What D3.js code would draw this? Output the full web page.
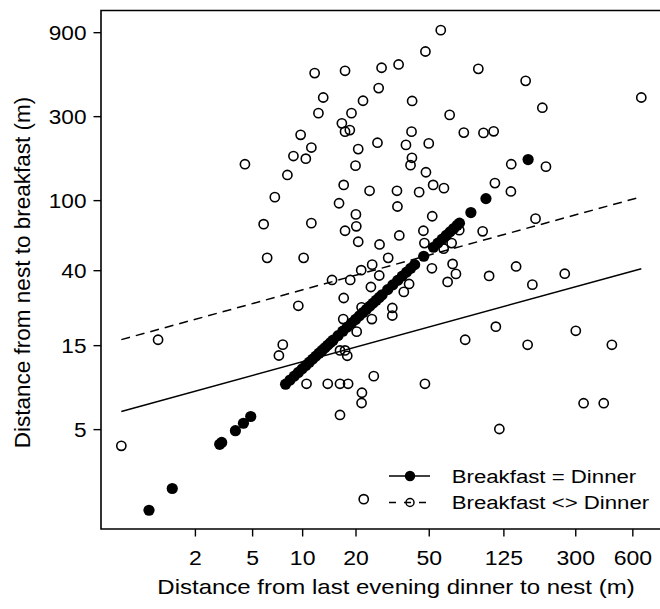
<!DOCTYPE html>
<html>
<head>
<meta charset="utf-8">
<script src="https://cdn.jsdelivr.net/npm/d3@7"></script>
<style>
  body { margin: 0; background: #fff; }
  svg text { font-family: "Liberation Sans", Arial, sans-serif; fill: #000; }
</style>
</head>
<body>
<svg width="660" height="609"></svg>
<script>
// tick values on the two axes
var xTicks = [2, 5, 10, 20, 50, 125, 300, 600];
var yTicks = [5, 15, 40, 100, 300, 900];

// breakfast at the same spot as dinner: [dinner to nest, nest to breakfast]
var sameSpot = [
  [0.72, 1.73], [1.28, 2.3], [3.05, 4.1], [3.15, 4.2], [3.9, 4.9], [4.4, 5.4], [4.9, 5.9],
  [8, 9], [8.5, 9.5], [9, 10], [9.5, 10.5], [10, 11], [10.5, 11.5], [11, 12], [11.5, 12.5],
  [12, 13], [12.5, 13.5], [13, 14], [13.5, 14.5], [14, 15], [14.5, 15.5], [15, 16], [16, 17],
  [17, 18], [18, 19], [19, 20], [20, 21], [21, 22], [22, 23], [23, 24], [24, 25], [25, 26],
  [26, 27], [27, 28], [28, 29], [30, 31], [32, 33], [34, 35], [36, 37], [38, 39], [40, 41],
  [42, 43], [47, 48], [53, 54], [56, 57], [59, 60], [62, 63], [65, 66], [68, 69], [71, 72],
  [73, 74], [84, 85], [101, 102], [169, 170]
];

// breakfast somewhere else
var otherSpot = [
  [11.8, 527], [13.2, 383], [12.4, 312], [9.8, 235], [11.3, 199], [8.9, 178], [10.5, 172],
  [4.5, 160], [8.2, 139], [6.9, 104], [5.9, 73], [11.3, 74], [6.2, 47], [10.2, 47],
  [58, 924], [48, 699], [17.5, 543], [27.8, 565], [34.4, 590], [92, 557], [164, 476],
  [669, 383], [26.8, 433], [22, 367], [40.7, 366], [201, 335], [19, 312], [64.7, 305],
  [16.8, 273], [17.5, 245], [18.6, 250], [40.4, 245], [77, 242], [98, 241], [111, 246],
  [26.4, 212], [37.7, 206], [50, 210], [20.7, 195], [40.6, 174], [39.9, 158], [20, 157],
  [48.3, 144], [137.6, 160], [210, 155], [17.2, 122], [23.9, 113], [33.7, 113], [44.4, 111],
  [52.8, 122], [60.3, 117], [112.7, 125], [137, 112], [16.2, 96], [33.9, 92], [20.1, 83],
  [52.2, 81], [185, 78.5], [17.5, 67], [20.2, 71], [34.7, 63], [46.8, 67], [72.8, 67.5],
  [97, 66.5], [20.7, 58], [27.1, 56], [47.4, 57], [66.3, 57], [60.1, 53], [30.2, 47],
  [24.7, 43], [21.5, 40], [27, 37.3], [52, 41], [67.1, 43.4], [69.9, 38.1], [146, 42],
  [264, 38.2], [105, 37.1], [14.8, 35.2], [18.7, 35.2], [24.3, 32.1], [39.2, 33.4],
  [63.1, 34.3], [178, 33.1], [36.7, 30.1], [17.2, 27.8],
  [0.23, 4.02], [0.92, 16.1], [9.5, 25.1], [7.3, 13.1], [7.7, 15.1], [10.6, 9.05], [14, 9.05],
  [31.8, 24.4], [31.8, 22.1], [21.6, 24.6], [17.1, 21.1], [24.6, 21.1], [20.3, 17.9],
  [114, 19.1], [78.3, 16.1], [168, 15.07], [302, 18.1], [468, 15.07], [16.4, 14], [17.5, 14],
  [18, 13.05], [25.2, 10], [16.4, 9.05], [18.2, 9.05], [47.7, 9.05], [21.7, 8.05],
  [21.6, 7.04], [16.4, 6.02], [332, 7.02], [424, 7.02], [119, 5.01], [22.2, 2.0]
];

// fitted lines, log10(y) = a + b * log10(x + 1), drawn over the range of x
var fitRange = [0.23, 669];
var fitSame = {a: 0.7725, b: 0.2965};
var fitOther = {a: 1.181, b: 0.2965};

var legendItems = ["Breakfast = Dinner", "Breakfast <> Dinner"];

(function(){
    var svg = d3.select("svg");
    var left = 101, right = 662, top = 10.5, bottom = 529;

    // x axis is log(x + 1)
    var x = d3.scaleSymlog().constant(1).domain([-0.04, 860]).range([left, right]);
    var y = d3.scaleLog().domain([1.354, 1195]).range([bottom, top]);

    var line = d3.line()
        .x(function(d) { return x(d[0]); })
        .y(function(d) { return y(d[1]); });

    function fitPoints(f) {
        return fitRange.map(function(v) { return [v, Math.pow(10, f.a + f.b * Math.log10(v + 1))]; });
    }

    // open points first, filled points over them
    svg.append("g").selectAll("circle")
        .data(otherSpot)
        .enter().append("circle")
        .attr("cx", function(d) { return x(d[0]); })
        .attr("cy", function(d) { return y(d[1]); })
        .attr("r", 4.6)
        .attr("fill", "none")
        .attr("stroke", "#000")
        .attr("stroke-width", 1.6);

    svg.append("g").selectAll("circle")
        .data(sameSpot)
        .enter().append("circle")
        .attr("cx", function(d) { return x(d[0]); })
        .attr("cy", function(d) { return y(d[1]); })
        .attr("r", 5.6)
        .attr("fill", "#000");

    svg.append("path")
        .attr("d", line(fitPoints(fitSame)))
        .attr("fill", "none")
        .attr("stroke", "#000")
        .attr("stroke-width", 1.5);

    svg.append("path")
        .attr("d", line(fitPoints(fitOther)))
        .attr("fill", "none")
        .attr("stroke", "#000")
        .attr("stroke-width", 1.5)
        .attr("stroke-dasharray", "9,6");

    // box
    svg.append("path")
        .attr("d", "M" + right + "," + top + "H" + left + "V" + bottom + "H" + right + "Z")
        .attr("fill", "none")
        .attr("stroke", "#000")
        .attr("stroke-width", 1.6);

    var gx = svg.append("g")
        .attr("transform", "translate(0," + bottom + ")")
        .call(d3.axisBottom(x).tickValues(xTicks).tickSize(7.5).tickSizeOuter(0).tickFormat(d3.format("d")));
    gx.select(".domain").remove();
    gx.selectAll("line").attr("stroke-width", 1.4);
    gx.selectAll("text")
        .attr("y", 0).attr("dy", null)
        .attr("transform", "translate(0,36) scale(1.18,1)")
        .style("font-size", "19.5px");

    var gy = svg.append("g")
        .attr("transform", "translate(" + left + ",0)")
        .call(d3.axisLeft(y).tickValues(yTicks).tickSize(7.5).tickSizeOuter(0).tickFormat(d3.format("d")));
    gy.select(".domain").remove();
    gy.selectAll("line").attr("stroke-width", 1.4);
    gy.selectAll("text")
        .attr("x", 0).attr("dy", "0.36em")
        .attr("transform", "translate(-14.5,0) scale(1.16,1)")
        .style("font-size", "19.5px");

    svg.append("text")
        .attr("transform", "translate(396,593.5) scale(1.2,1)")
        .attr("text-anchor", "middle")
        .style("font-size", "20px")
        .text("Distance from last evening dinner to nest (m)");

    svg.append("text")
        .attr("transform", "translate(29.5,272.5) rotate(-90)")
        .attr("text-anchor", "middle")
        .style("font-size", "22.5px")
        .text("Distance from nest to breakfast (m)");

    // legend
    var legend = svg.append("g").selectAll("g")
        .data(legendItems)
        .enter().append("g")
        .attr("transform", function(d, i) { return "translate(0," + (476 + i * 26.5) + ")"; });

    legend.append("line")
        .attr("x1", 389).attr("x2", 430)
        .attr("stroke", "#000")
        .attr("stroke-width", 1.5)
        .attr("stroke-dasharray", function(d, i) { return i ? "7,8" : null; });

    legend.append("circle")
        .attr("cx", 410)
        .attr("r", function(d, i) { return i ? 4 : 5.2; })
        .attr("fill", function(d, i) { return i ? "none" : "#000"; })
        .attr("stroke", "#000")
        .attr("stroke-width", function(d, i) { return i ? 1.5 : 0; });

    legend.append("text")
        .attr("transform", "translate(451.7,6.8) scale(1.17,1)")
        .style("font-size", "19px")
        .text(function(d) { return d; });
})();
</script>
</body>
</html>
